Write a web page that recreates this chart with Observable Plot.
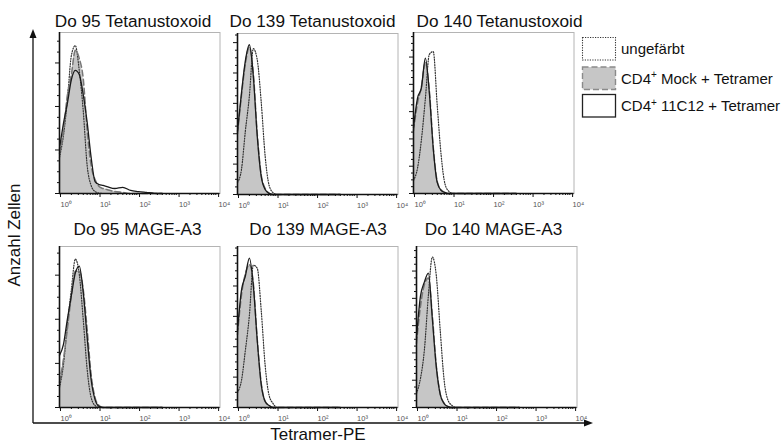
<!DOCTYPE html>
<html><head><meta charset="utf-8">
<script src="https://cdn.jsdelivr.net/npm/d3@7"></script>
<script src="https://cdn.jsdelivr.net/npm/@observablehq/plot@0.6"></script>
<style>
body{margin:0;background:#fff;font-family:"Liberation Sans",Arial,Helvetica,sans-serif;}
#root{position:relative;width:782px;height:445px;overflow:hidden;background:#fff;}
.panel{position:absolute;}
#overlay{position:absolute;left:0;top:0;}
</style></head><body><div id="root"></div>
<script>
// Tetramer-PE fluorescence grid (log spaced)
const peGrid = [1, 1.26, 1.58, 2.0, 2.51, 3.16, 3.98, 5.01, 6.31, 7.94, 10, 12.6, 15.8, 25.1, 39.8, 63.1, 100, 158, 251, 398];

const panelTitles = ["Do 95 Tetanustoxoid", "Do 139 Tetanustoxoid", "Do 140 Tetanustoxoid",
                     "Do 95 MAGE-A3", "Do 139 MAGE-A3", "Do 140 MAGE-A3"];
const seriesNames = ["ungefärbt", "CD4+ Mock + Tetramer", "CD4+ 11C12 + Tetramer"];
const yMaxCounts = [74, 106, 118, 73, 106, 118];

// counts per panel: ungefärbt
const unst95TT  = [16.6, 26.7, 42.8, 63.5, 68, 56.6, 38.2, 12.9, 3.7, 0.9, 0.2, 0, 0, 0, 0, 0, 0, 0, 0, 0];
const unst139TT = [7.9, 16.5, 41.7, 64.9, 96, 88.7, 60.9, 25.2, 6, 1.2, 0, 0, 0, 0, 0, 0, 0, 0, 0, 0];
const unst140TT = [9.6, 18.4, 39, 69.8, 102, 104, 64.7, 27.9, 6.6, 1.5, 0, 0, 0, 0, 0, 0, 0, 0, 0, 0];
const unst95MA  = [9.1, 19.5, 37.7, 53.6, 67.3, 60.5, 40, 17.3, 4.5, 0.9, 0, 0, 0, 0, 0, 0, 0, 0, 0, 0];
const unst139MA = [9.9, 17.8, 37.6, 60.7, 93.7, 91.7, 64, 27.7, 7.9, 2.6, 0, 0, 0, 0, 0, 0, 0, 0, 0, 0];
const unst140MA = [10.3, 21.3, 41.9, 82.3, 110.3, 97, 56.6, 19.8, 5.1, 1.5, 0, 0, 0, 0, 0, 0, 0, 0, 0, 0];
// CD4+ Mock + Tetramer
const mock95TT  = [18.4, 28.5, 45, 54.7, 65.8, 62.1, 52.9, 29, 12.9, 6.4, 3.2, 2.3, 1.8, 0.9, 0.5, 0, 0, 0, 0, 0];
const mock139TT = [40, 65, 86, 97, 80, 40, 13, 4, 1, 0, 0, 0, 0, 0, 0, 0, 0, 0, 0, 0];
const mock140TT = [46, 66, 78, 96, 76, 34, 9, 2.5, 0.7, 0, 0, 0, 0, 0, 0, 0, 0, 0, 0, 0];
const mock95MA  = [11.4, 21.8, 35.5, 50.9, 61.8, 61.8, 53.6, 35.5, 15, 4.5, 0.9, 0, 0, 0, 0, 0, 0, 0, 0, 0];
const mock139MA = [48, 74, 88, 94, 82, 45, 16, 4, 1.3, 0, 0, 0, 0, 0, 0, 0, 0, 0, 0, 0];
const mock140MA = [47, 74, 90, 95, 68, 31, 10, 3, 0.7, 0, 0, 0, 0, 0, 0, 0, 0, 0, 0, 0];
// CD4+ 11C12 + Tetramer
const tcr95TT  = [20.7, 32.2, 41.4, 52.4, 56.6, 54.7, 45.5, 32.7, 16.6, 5.5, 4.1, 3.7, 3.2, 2.3, 2.8, 1.4, 0.9, 0.5, 0.1, 0];
const tcr139TT = [41.7, 66.9, 88, 98.6, 78.1, 38.4, 11.9, 3.3, 0.7, 0, 0, 0, 0, 0, 0, 0, 0, 0, 0, 0];
const tcr140TT = [48.5, 69.8, 77.2, 99.2, 74.2, 33.1, 8.1, 2.2, 0.7, 0, 0, 0, 0, 0, 0, 0, 0, 0, 0, 0];
const tcr95MA  = [23.6, 28.6, 40, 50.9, 60.9, 64.1, 52.3, 31.8, 12.7, 3.6, 0.5, 0, 0, 0, 0, 0, 0, 0, 0, 0];
const tcr139MA = [50.8, 77.2, 86.5, 98.3, 80.5, 44.2, 15.2, 4, 1.3, 0, 0, 0, 0, 0, 0, 0, 0, 0, 0, 0];
const tcr140MA = [51.4, 81.6, 91.9, 98.5, 65.4, 30.1, 9.6, 2.9, 0.7, 0, 0, 0, 0, 0, 0, 0, 0, 0, 0, 0];

const xTickValues = [1, 10, 100, 1000, 10000];
const xTickLabels = ["10\u2070", "10\u00b9", "10\u00b2", "10\u00b3", "10\u2074"];

const unstAll = [unst95TT, unst139TT, unst140TT, unst95MA, unst139MA, unst140MA];
const mockAll = [mock95TT, mock139TT, mock140TT, mock95MA, mock139MA, mock140MA];
const tcrAll  = [tcr95TT, tcr139TT, tcr140TT, tcr95MA, tcr139MA, tcr140MA];

// layout
const frameLeft = [59, 236.5, 413, 59, 236.5, 415.5];
const frameTop  = [32, 32.5, 32, 246, 246, 246];
const frameW = 160.5, frameH = 161;
const titleX = [133, 312.5, 499.5, 137.5, 318, 493.5];
const titleY = [27, 27, 27, 235, 235, 235];
const mL = 6, mR = 16, mT = 2, mB = 18;

const root = document.getElementById("root");

// overlay (shared axes, titles, legend)
const W = 782, H = 445;
const svg = d3.select(root).append("svg").attr("id", "overlay").attr("width", W).attr("height", H);
svg.append("line").attr("x1", 33).attr("y1", 423).attr("x2", 33).attr("y2", 36).attr("stroke", "#111").attr("stroke-width", 1.3);
svg.append("path").attr("d", "M33,29 L29.5,38 L36.5,38 Z").attr("fill", "#111");
svg.append("line").attr("x1", 33).attr("y1", 423).attr("x2", 585).attr("y2", 423).attr("stroke", "#111").attr("stroke-width", 1.3);
svg.append("path").attr("d", "M593,423 L584,419.5 L584,426.5 Z").attr("fill", "#111");
svg.append("text").attr("transform", "translate(20,235) rotate(-90)").attr("text-anchor", "middle")
  .attr("font-size", 17).attr("fill", "#111").text("Anzahl Zellen");
svg.append("text").attr("x", 318).attr("y", 439.5).attr("text-anchor", "middle")
  .attr("font-size", 17).attr("fill", "#111").text("Tetramer-PE");
panelTitles.forEach((t, i) => {
  svg.append("text").attr("x", titleX[i]).attr("y", titleY[i]).attr("text-anchor", "middle")
    .attr("font-size", 17.2).attr("fill", "#111").text(t);
});
// legend
const legBoxY = [37.5, 67, 94.5];
const legStyles = [
  {fill: "#fff", stroke: "#333", dash: "1.2,1.3", sw: 1.1},
  {fill: "#c6c6c6", stroke: "#8a8a8a", dash: "6,3", sw: 1.4},
  {fill: "#fff", stroke: "#222", dash: null, sw: 1.3}
];
seriesNames.forEach((name, i) => {
  const s = legStyles[i];
  const r = svg.append("rect").attr("x", 582.5).attr("y", legBoxY[i]).attr("width", 33).attr("height", 22.5)
    .attr("fill", s.fill).attr("stroke", s.stroke).attr("stroke-width", s.sw);
  if (s.dash) r.attr("stroke-dasharray", s.dash);
  const tx = svg.append("text").attr("x", 621).attr("y", legBoxY[i] + 16.5).attr("font-size", 15).attr("fill", "#111");
  if (name.startsWith("CD4+")) {
    tx.append("tspan").text("CD4");
    tx.append("tspan").attr("font-size", 10).attr("dy", -5.5).text("+");
    tx.append("tspan").attr("dy", 5.5).text(name.slice(4));
  } else tx.text(name);
});

const minorX = [];
for (const k of [1, 10, 100, 1000]) for (let m = 2; m <= 9; m++) minorX.push(m * k);

for (let i = 0; i < 6; i++) {
  const data = peGrid.map((pe, j) => ({pe, unst: unstAll[i][j], mock: mockAll[i][j], tcr: tcrAll[i][j]}));
  const ymax = yMaxCounts[i];
  const majorY = d3.range(0, ymax + 0.01, 20);
  const minorY = d3.range(0, ymax + 0.01, 5).filter(v => v % 20 !== 0);
  const chart = Plot.plot({
    width: frameW + mL + mR,
    height: frameH + mT + mB,
    marginLeft: mL, marginRight: mR, marginTop: mT, marginBottom: mB,
    style: {background: "transparent", overflow: "visible", fontFamily: "Liberation Sans, Arial, sans-serif"},
    x: {type: "log", domain: [1, 11500]},
    y: {domain: [0, ymax]},
    marks: [
      Plot.frame({stroke: "#b4b4b4", strokeWidth: 1}),
      Plot.areaY(data, {x: "pe", y: "mock", fill: "#c6c6c6", curve: "monotone-x"}),
      Plot.lineY(data, {x: "pe", y: "unst", stroke: "#333", strokeWidth: 1.2, strokeDasharray: "1,1.6", curve: "monotone-x"}),
      Plot.lineY(data, {x: "pe", y: "mock", stroke: "#777", strokeWidth: 1.5, strokeDasharray: "6,3", curve: "monotone-x"}),
      Plot.lineY(data, {x: "pe", y: "tcr", stroke: "#1a1a1a", strokeWidth: 1.3, curve: "monotone-x"}),
      Plot.axisY(majorY, {tickSize: 4, tickFormat: () => "", label: null, stroke: "#111"}),
      Plot.axisY(minorY, {tickSize: 2, tickFormat: () => "", label: null, stroke: "#111"}),
      Plot.axisX(minorX, {tickSize: 2, tickFormat: () => "", label: null, stroke: "#111"}),
      Plot.axisX(xTickValues, {tickSize: 4, tickPadding: 4, label: null, stroke: "#111",
        tickFormat: d => xTickLabels[xTickValues.indexOf(d)], fontSize: 7.5, fill: "#555", textAnchor: "start", dx: 1}),
      Plot.ruleX([1], {stroke: "#111", strokeWidth: 1.6}),
      Plot.ruleY([0], {stroke: "#111", strokeWidth: 1.4})
    ]
  });
  const div = document.createElement("div");
  div.className = "panel";
  div.style.left = (frameLeft[i] - mL) + "px";
  div.style.top = (frameTop[i] - mT) + "px";
  div.appendChild(chart);
  root.appendChild(div);
}
</script>
</body></html>
